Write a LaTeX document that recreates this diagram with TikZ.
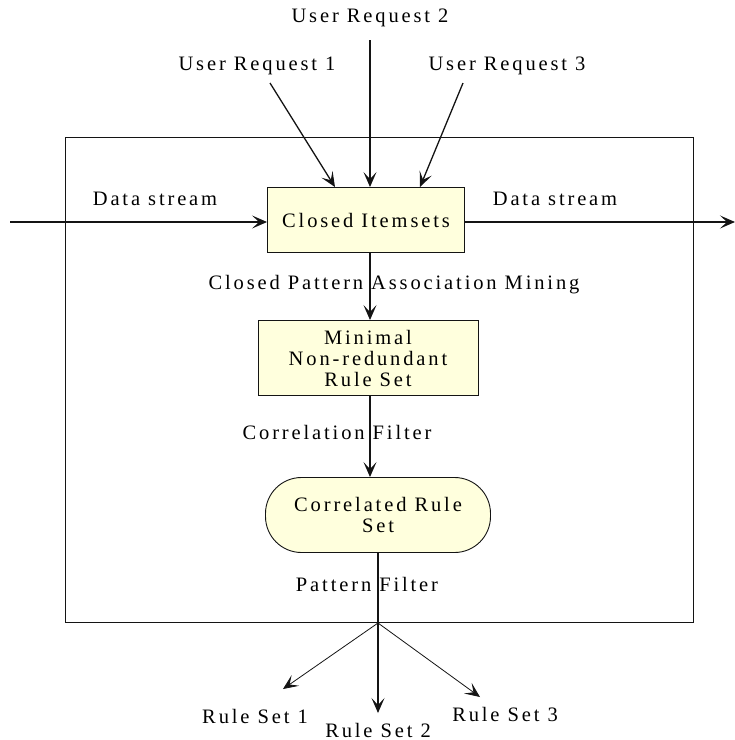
\documentclass[tikz,border=0pt]{standalone}
\usepackage{fontspec}
\setmainfont{Liberation Serif}[LetterSpace=14]
\usepackage{tikz}
\usetikzlibrary{
  arrows.meta,
  positioning
}
\definecolor{blockfill}{RGB}{255, 255, 221}
\definecolor{linecolor}{RGB}{20, 20, 20}
\tikzset{
labeltext/.style={
  font=\fontsize{20.5}{21}\selectfont,
  text=black,
  align=center,
  inner sep=1pt
},
block/.style={
  draw=linecolor,
  line width=0.9pt,
  fill=blockfill,
  minimum height=65pt,
  minimum width=197pt,
  labeltext
},
roundblock/.style={
  block,
  rounded corners=36pt,
  minimum height=75pt,
  minimum width=225pt
},
frame/.style={
  draw=linecolor,
  line width=0.9pt
},
arrow/.style={
  -{Stealth[length=15pt,width=13pt,inset=7pt]},
  line width=1.3pt,
  draw=linecolor
},
thinarrow/.style={
  arrow,
  line width=0.8pt
}
}

\begin{document}
\begin{tikzpicture}[x=1pt,y=-1pt]
  \useasboundingbox (0,0) rectangle (735,740);
  % outer frame
  \draw[frame] (65,137) rectangle (693,622);

  % blocks
  \node[block] (closed) at (366,220) {Closed Itemsets};
  \node[block, minimum width=220pt, minimum height=75pt] (minimal) at (368,358) {Minimal\\Non-redundant\\Rule Set};
  \node[roundblock] (correlated) at (378,515) {Correlated Rule\\Set};

  % inputs and outputs
  \node[labeltext] (req1) at (257,66) {User Request 1};
  \node[labeltext] (req2) at (370,18) {User Request 2};
  \node[labeltext] (req3) at (507,66) {User Request 3};
  \coordinate (req2top) at (370,40);
  \coordinate (streamin) at (10,222);
  \coordinate (streamout) at (735,222);
  \coordinate (split) at (378,623);
  \node[labeltext] (rules1) at (255,716) {Rule Set 1};
  \node[labeltext] (rules2) at (378,730) {Rule Set 2};
  \node[labeltext] (rules3) at (505,714) {Rule Set 3};

  % connectors
  \draw[arrow] (270,83) -- (closed.north west -| 335,0);
  \draw[arrow] (req2top) -- (closed.north west -| 370,0);
  \draw[arrow] (463,83) -- (closed.north west -| 420,0);
  \draw[arrow] (streamin) -- (closed.west |- 0,222);
  \draw[arrow] (closed.east |- 0,222) -- (streamout);
  \draw[arrow] (closed.south -| 370,0) -- (minimal.north -| 370,0);
  \draw[arrow] (minimal.south -| 370,0) -- (correlated.north -| 370,0);
  \draw[line width=1.3pt, draw=linecolor] (correlated.south) -- (split);
  \draw[thinarrow] (split) -- (283,689);
  \draw[arrow] (split) -- (378,713);
  \draw[thinarrow] (split) -- (480,697);

  % connector labels
  \node[labeltext] (instream) at (155,199) {Data stream};
  \node[labeltext] (outstream) at (555,199) {Data stream};
  \node[labeltext] (mining) at (394,285) {Closed Pattern Association Mining};
  \node[labeltext] (corrfilter) at (337,432) {Correlation Filter};
  \node[labeltext] (patfilter) at (367,584) {Pattern Filter};
\end{tikzpicture}
\end{document}
